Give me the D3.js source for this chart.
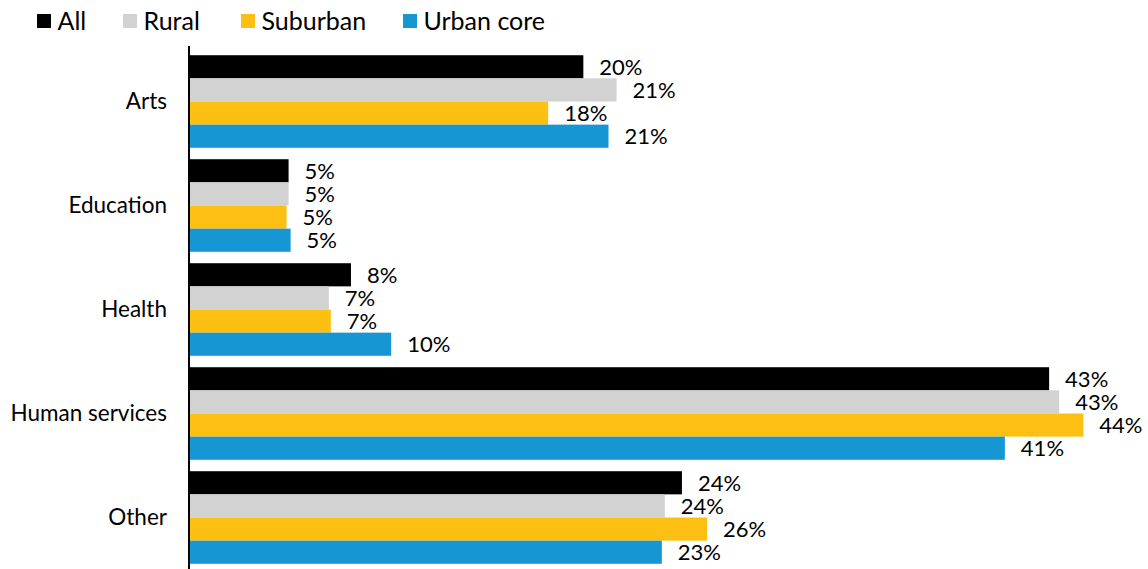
<!DOCTYPE html>
<html>
<head>
<meta charset="utf-8">
<script src="https://cdn.jsdelivr.net/npm/d3@7"></script>
<style>
  html, body { margin: 0; padding: 0; background: #fff; }
  svg { display: block; font-family: Lato, "Open Sans", sans-serif; }
</style>
</head>
<body>
<svg id="chart" width="1148" height="569"></svg>
<script>
const categories = ["Arts", "Education", "Health", "Human services", "Other"];
const seriesNames = ["All", "Rural", "Suburban", "Urban core"];
const seriesColors = ["#000000", "#d2d2d2", "#fdbf11", "#1696d2"];
const allValues      = [19.55, 4.9, 8.0, 42.7, 24.45];
const ruralValues    = [21.2, 4.9, 6.9, 43.2, 23.6];
const suburbanValues = [17.8, 4.8, 7.0, 44.4, 25.7];
const urbanValues    = [20.8, 5.0, 10.0, 40.5, 23.45];
const seriesValues = [allValues, ruralValues, suburbanValues, urbanValues];

const svg = d3.select("#chart");
const W = 1148, H = 569;
const x0 = 190;
const pxPerPct = 20.12;

const x = d3.scaleLinear().domain([0, 1]).range([x0, x0 + pxPerPct]);
const y = d3.scaleBand().domain(categories).range([49.5, 569.5]).paddingInner(0.11).paddingOuter(0.055);
const ySub = d3.scaleBand().domain(seriesNames).range([0, y.bandwidth()]);

const data = [];
categories.forEach((c, ci) => {
  seriesNames.forEach((s, si) => {
    data.push({ cat: c, series: s, si, value: seriesValues[si][ci] });
  });
});

const g = svg.append("g");
g.selectAll("rect.bar").data(data).enter().append("rect")
  .attr("class", "bar")
  .attr("x", x(0))
  .attr("y", d => y(d.cat) + ySub(d.series))
  .attr("width", d => x(d.value) - x(0))
  .attr("height", ySub.bandwidth())
  .attr("fill", d => seriesColors[d.si]);

g.selectAll("text.val").data(data).enter().append("text")
  .attr("class", "val")
  .attr("x", d => x(d.value) + 16)
  .attr("y", d => y(d.cat) + ySub(d.series) + ySub.bandwidth() / 2)
  .attr("dy", "0.36em")
  .attr("font-size", 22)
  .attr("fill", "#000")
  .text(d => Math.round(d.value) + "%");

// y axis
const yAxis = d3.axisLeft(y).tickSize(0).tickPadding(22);
const ax = svg.append("g").attr("transform", `translate(${x0 - 1},0)`).call(yAxis);
ax.select(".domain").remove();
ax.selectAll("text").attr("font-size", 22.5).attr("fill", "#000").attr("font-family", "Lato, sans-serif");
svg.append("line")
  .attr("x1", x0 - 1).attr("x2", x0 - 1)
  .attr("y1", 46).attr("y2", H)
  .attr("stroke", "#000").attr("stroke-width", 2);

// legend
const legendX = [37, 123, 241, 403];
const leg = svg.append("g");
seriesNames.forEach((s, i) => {
  const lg = leg.append("g").attr("transform", `translate(${legendX[i]},14)`);
  lg.append("rect").attr("width", 14).attr("height", 14).attr("fill", seriesColors[i]);
  lg.append("text").attr("x", 20.5).attr("y", 7).attr("dy", "0.36em")
    .attr("font-size", 25).attr("fill", "#000").text(s);
});
</script>
</body>
</html>
